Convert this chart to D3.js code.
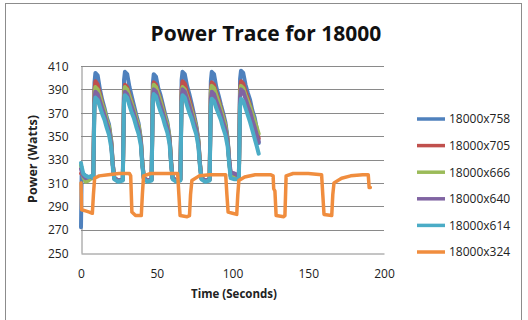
<!DOCTYPE html>
<html>
<head>
<meta charset="utf-8">
<script src="https://cdn.jsdelivr.net/npm/d3@7"></script>
<style>
  body { margin: 0; background: #fff; }
  text { font-family: "Open Sans", "Liberation Sans", sans-serif; }
</style>
</head>
<body>
<svg id="chart"></svg>
<script>
// Series names and colours (Excel 2007 palette)
const seriesNames = ['18000x758', '18000x705', '18000x666', '18000x640', '18000x614', '18000x324'];
const seriesColors = ['#4F81BD', '#C0504D', '#9BBB59', '#8064A2', '#4BACC6', '#F08D3E'];

const yTicks = [250, 270, 290, 310, 330, 350, 370, 390, 410];
const xTicks = [0, 50, 100, 150, 200];

// time axis shared by the five short runs (seconds)
const timesHigh = [
  0, 0.4, 1.5, 3, 5, 7,
  8.1, 8.9, 9.5, 11, 12.5, 14, 15.5, 17, 18.5, 20, 21, 22, 24.5,
  27.6, 28.4, 29, 30.5, 32, 33.5, 35, 36.5, 38, 39.5, 40.5, 41.5, 44,
  46.6, 47.4, 48, 49.5, 51, 52.5, 54, 55.5, 57, 58.5, 59.5, 60.5, 63,
  65.6, 66.4, 67, 68.5, 70, 71.5, 73, 74.5, 76, 77.5, 78.5, 79.5, 82,
  84.9, 85.7, 86.3, 87.8, 89.3, 90.8, 92.3, 93.8, 95.3, 96.8, 97.8, 98.8, 101.3,
  104.2, 105, 105.6, 107.1, 108.6, 110.1, 111.6, 113.1, 114.6, 116.1, 117.3
];

const watts758 = [
  272, 316, 318, 316, 315, 315,
  314, 396, 404, 402, 390, 381, 374, 366, 360, 346, 326, 314, 312,
  313, 398, 405, 403, 392, 384, 376, 368, 361, 348, 328, 314, 312,
  313, 395, 403, 401, 391, 385, 377, 369, 362, 349, 328, 314, 312,
  313, 398, 405, 403, 393, 386, 378, 369, 360, 347, 327, 314, 312,
  313, 397, 405, 403, 392, 385, 377, 370, 362, 348, 330, 316, 314,
  314, 399, 406, 404, 394, 387, 381, 372, 366, 356, 344
];

const watts705 = [
  318, 318, 317, 315, 315, 315,
  314, 390, 397, 394, 386, 378, 371, 363, 357, 344, 325, 314, 312,
  313, 387, 394, 392, 385, 379, 372, 365, 358, 346, 327, 314, 312,
  313, 389, 396, 394, 387, 381, 374, 366, 359, 347, 327, 314, 312,
  313, 390, 397, 395, 388, 381, 374, 366, 358, 345, 326, 314, 312,
  313, 389, 396, 394, 387, 381, 374, 367, 359, 346, 329, 316, 315,
  314, 390, 397, 395, 388, 382, 376, 369, 362, 355, 348
];

const watts666 = [
  325, 322, 315, 311, 312, 314,
  314, 386, 392, 390, 384, 377, 372, 364, 358, 345, 326, 314, 312,
  313, 386, 392, 390, 384, 378, 372, 365, 359, 347, 327, 314, 312,
  313, 388, 394, 392, 386, 380, 373, 366, 360, 348, 328, 314, 312,
  313, 386, 392, 390, 384, 378, 372, 365, 358, 346, 327, 314, 312,
  313, 387, 393, 391, 385, 379, 373, 366, 359, 347, 329, 316, 314,
  314, 387, 393, 391, 385, 380, 375, 369, 363, 357, 352
];

const watts640 = [
  322, 320, 316, 314, 315, 315,
  314, 382, 388, 386, 380, 374, 368, 361, 355, 343, 325, 314, 312,
  313, 382, 388, 386, 380, 375, 369, 362, 356, 345, 326, 314, 312,
  313, 384, 390, 388, 382, 376, 370, 363, 357, 346, 327, 314, 312,
  313, 384, 390, 388, 382, 376, 369, 362, 356, 344, 326, 314, 312,
  313, 382, 388, 386, 380, 375, 369, 362, 356, 345, 330, 319, 318,
  316, 384, 390, 388, 382, 376, 371, 364, 358, 351, 345
];

const watts614 = [
  327, 324, 318, 316, 315, 316,
  314, 377, 383, 381, 375, 369, 364, 357, 351, 340, 323, 313, 311,
  312, 379, 385, 383, 376, 370, 365, 358, 352, 342, 324, 313, 311,
  312, 380, 386, 384, 377, 371, 366, 359, 353, 343, 325, 313, 311,
  312, 379, 385, 383, 376, 370, 365, 358, 352, 341, 324, 313, 311,
  312, 376, 382, 380, 374, 369, 364, 357, 351, 341, 326, 314, 313,
  313, 376, 382, 380, 374, 368, 362, 355, 348, 341, 335
];

// the long run has its own time axis
const times324 = [
  0, 0.4, 3, 5.5, 7.5, 8.2, 9, 12, 18, 25, 32,
  32.8, 33.6, 36, 39.8, 40.5, 41.3, 46, 55, 63.8,
  64.6, 65.4, 70, 71.6, 72.3, 73.2, 78, 85, 95.5,
  96.3, 97.1, 100, 102.8, 103.5, 104.2, 108, 115, 125,
  126.8, 127.2, 128, 128.8, 133.8, 134.6, 135.4, 140, 150, 158.8,
  159.6, 160.4, 165.5, 166.2, 167, 172, 178, 186, 189.6, 190.2, 191
];

const watts324 = [
  310, 287, 286, 285, 284, 300, 314, 316, 317, 318, 318,
  316, 285, 282, 282, 300, 316, 318, 318, 318,
  300, 282, 281, 282, 300, 312, 316, 317, 317,
  300, 285, 284, 283, 300, 312, 315, 317, 317,
  316, 305, 303, 282, 281, 282, 316, 318, 318, 317,
  300, 283, 282, 300, 310, 314, 316, 317, 317, 306, 306
];

const seriesTimes = [timesHigh, timesHigh, timesHigh, timesHigh, timesHigh, times324];
const seriesValues = [watts758, watts705, watts666, watts640, watts614, watts324];

// Chart frame
const W = 528;
const H = 320;
const plot = { left: 81, right: 384, top: 66, bottom: 253 };

const svg = d3.select('#chart')
  .attr('width', W)
  .attr('height', H);

svg.append('rect')
  .attr('x', 5.5)
  .attr('y', 3.5)
  .attr('width', 516)
  .attr('height', 340)
  .attr('fill', '#fff')
  .attr('stroke', '#8c8c8c');

// Scales
const xScale = d3.scaleLinear().domain([0, 200]).range([plot.left, plot.right]);
const yScale = d3.scaleLinear().domain([250, 410]).range([plot.bottom, plot.top]);

// Gridlines
svg.append('g')
  .selectAll('line')
  .data(yTicks.slice(1))
  .enter()
  .append('line')
  .attr('x1', plot.left)
  .attr('x2', plot.right)
  .attr('y1', d => Math.round(yScale(d)) + 0.5)
  .attr('y2', d => Math.round(yScale(d)) + 0.5)
  .attr('stroke', '#8a8a8a')
  .attr('stroke-width', 1);

// Axes
const yAxis = d3.axisLeft(yScale).tickValues(yTicks).tickSize(0).tickPadding(13);
const xAxis = d3.axisBottom(xScale).tickValues(xTicks).tickSize(0).tickPadding(16);

const gy = svg.append('g')
  .attr('transform', `translate(${plot.left + 0.5}, 0)`)
  .call(yAxis);
const gx = svg.append('g')
  .attr('transform', `translate(0, ${Math.round(plot.bottom) + 0.5})`)
  .call(xAxis);

[gx, gy].forEach(g => {
  g.select('.domain').attr('stroke', '#8a8a8a');
  g.selectAll('text')
    .attr('fill', '#222')
    .style('font-size', '12px');
});
gy.selectAll('text').attr('dy', '0.36em');

// Lines
const line = d3.line()
  .x(d => xScale(d[0]))
  .y(d => yScale(d[1]))
  .curve(d3.curveLinear);

seriesNames.forEach((name, i) => {
  const pts = seriesTimes[i].map((t, j) => [t, seriesValues[i][j]]);
  svg.append('path')
    .datum(pts)
    .attr('d', line)
    .attr('fill', 'none')
    .attr('stroke', seriesColors[i])
    .attr('stroke-width', i < 5 ? 4 : 3.5)
    .attr('stroke-linejoin', 'round')
    .attr('stroke-linecap', 'round');
});

// Titles
svg.append('text')
  .attr('x', 266)
  .attr('y', 41)
  .attr('text-anchor', 'middle')
  .style('font-size', '21px')
  .style('font-weight', 'bold')
  .attr('fill', '#111')
  .text('Power Trace for 18000');

svg.append('text')
  .attr('x', 234)
  .attr('y', 298)
  .attr('text-anchor', 'middle')
  .style('font-size', '11.5px')
  .style('font-weight', 'bold')
  .attr('fill', '#222')
  .text('Time (Seconds)');

svg.append('text')
  .attr('transform', 'translate(37, 159) rotate(-90)')
  .attr('text-anchor', 'middle')
  .style('font-size', '12.5px')
  .style('font-weight', 'bold')
  .attr('fill', '#222')
  .text('Power (Watts)');

// Legend
const legend = svg.append('g')
  .selectAll('g')
  .data(seriesNames)
  .enter()
  .append('g')
  .attr('transform', (d, i) => `translate(417, ${119 + i * 26.6})`);

legend.append('line')
  .attr('x1', 0)
  .attr('x2', 28)
  .attr('stroke', (d, i) => seriesColors[i])
  .attr('stroke-width', 3.5);

legend.append('text')
  .attr('x', 32)
  .attr('dy', '0.36em')
  .style('font-size', '12px')
  .attr('fill', '#222')
  .text(d => d);
</script>
</body>
</html>
